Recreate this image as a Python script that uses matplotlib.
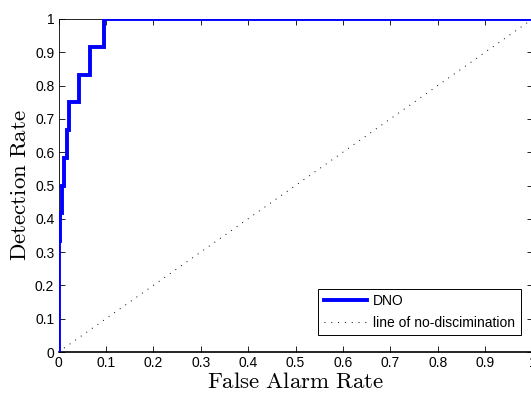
import matplotlib
matplotlib.use('Agg')
import matplotlib.pyplot as plt

plt.rcParams['mathtext.fontset'] = 'cm'
plt.rcParams['font.family'] = ['Liberation Sans', 'DejaVu Sans']

# ROC curve (false alarm rate, detection rate)
fpr = [0.0, 0.0, 0.004, 0.004, 0.008, 0.008, 0.012, 0.012, 0.018, 0.018,
       0.022, 0.022, 0.044, 0.044, 0.067, 0.067, 0.097, 0.097, 1.0]
tpr = [0.0, 0.333, 0.333, 0.417, 0.417, 0.5, 0.5, 0.583, 0.583, 0.667,
       0.667, 0.75, 0.75, 0.833, 0.833, 0.917, 0.917, 1.0, 1.0]
diag = [0, 1]
ticks = [0, 0.1, 0.2, 0.3, 0.4, 0.5, 0.6, 0.7, 0.8, 0.9, 1]
tick_labels = ['0', '0.1', '0.2', '0.3', '0.4', '0.5', '0.6', '0.7', '0.8',
               '0.9', '1']

fig = plt.figure(figsize=(5.31, 4.01), dpi=100)
ax = fig.add_axes([58.5 / 531, 49 / 401, 474 / 531, 333 / 401])

ax.plot(fpr, tpr, color='#0000ff', lw=2.8, label='DNO', zorder=3,
        solid_joinstyle='miter')
ax.plot(diag, diag, color='black', lw=0.7, ls=(0, (1, 6)),
        label='line of no-discimination')

ax.set_xlim(0, 1)
ax.set_ylim(0, 1)
ax.set_xticks(ticks)
ax.set_xticklabels(tick_labels)
ax.set_yticks(ticks)
ax.set_yticklabels(tick_labels)
ax.tick_params(direction='in', top=True, right=True, labelsize=10,
               length=4, width=0.6, pad=3)
for s in ax.spines.values():
    s.set_linewidth(0.6)
ax.spines['bottom'].set_linewidth(1.2)

ax.set_xlabel(r'$\mathrm{False\ Alarm\ Rate}$', fontsize=16.5, labelpad=0)
ax.set_ylabel(r'$\mathrm{Detection\ Rate}$', fontsize=16.5, labelpad=3)

leg = ax.legend(loc='lower right', bbox_to_anchor=(0.975, 0.05),
                fontsize=10, fancybox=False, edgecolor='black',
                framealpha=1, handlelength=3.1, handletextpad=0.45,
                borderpad=0.4, labelspacing=0.55, borderaxespad=0)
leg.get_frame().set_linewidth(0.7)

fig.savefig('out.png', dpi=100)
